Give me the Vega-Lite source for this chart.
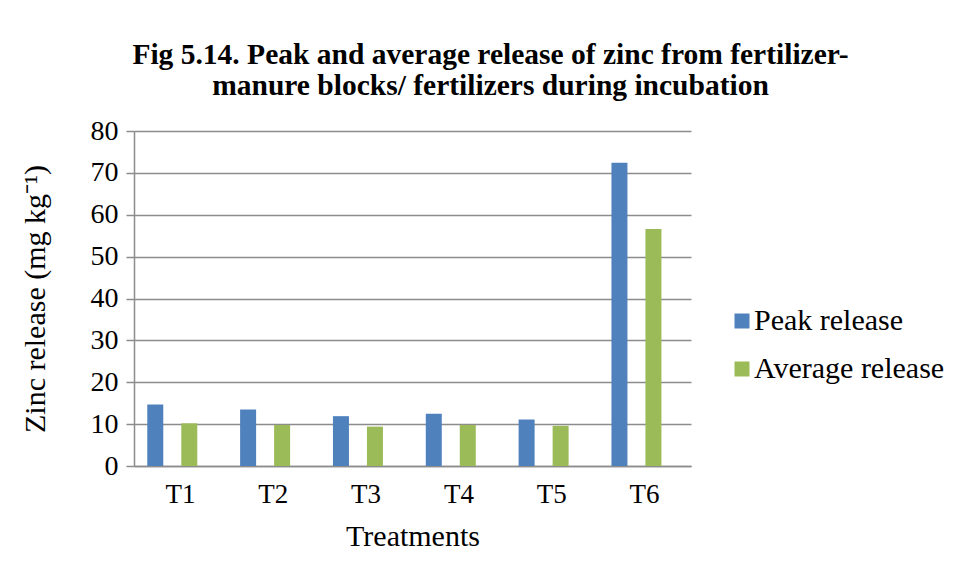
{
  "$schema": "https://vega.github.io/schema/vega-lite/v6.json",
  "autosize": {"type": "none"},
  "width": 557,
  "height": 335,
  "padding": {"left": 134, "top": 131, "right": 264, "bottom": 111},
  "background": "white",
  "config": {
    "view": {"stroke": null},
    "font": "Liberation Serif"
  },
  "title": {
    "text": ["Fig 5.14. Peak and average release of zinc from fertilizer-", "manure blocks/ fertilizers during incubation"],
    "font": "Liberation Serif",
    "fontSize": 29.5,
    "fontWeight": "bold",
    "color": "black",
    "anchor": "middle",
    "frame": "group",
    "dx": 78,
    "offset": 16,
    "lineHeight": 31
  },
  "data": {
    "values": [
      {"treatment": "T1", "series": "Peak release", "value": 14.7},
      {"treatment": "T1", "series": "Average release", "value": 10.2},
      {"treatment": "T2", "series": "Peak release", "value": 13.5},
      {"treatment": "T2", "series": "Average release", "value": 9.8},
      {"treatment": "T3", "series": "Peak release", "value": 11.9},
      {"treatment": "T3", "series": "Average release", "value": 9.4},
      {"treatment": "T4", "series": "Peak release", "value": 12.5},
      {"treatment": "T4", "series": "Average release", "value": 9.8},
      {"treatment": "T5", "series": "Peak release", "value": 11.1},
      {"treatment": "T5", "series": "Average release", "value": 9.6},
      {"treatment": "T6", "series": "Peak release", "value": 72.4},
      {"treatment": "T6", "series": "Average release", "value": 56.6}
    ]
  },
  "mark": {"type": "bar"},
  "encoding": {
    "x": {
      "field": "treatment",
      "type": "nominal",
      "scale": {"paddingInner": 0, "paddingOuter": 0},
      "axis": {
        "title": "Treatments",
        "labelAngle": 0,
        "labelFont": "Liberation Serif",
        "labelFontSize": 27,
        "labelColor": "black",
        "labelPadding": 15,
        "titleFont": "Liberation Serif",
        "titleFontSize": 30,
        "titleFontWeight": "normal",
        "titleColor": "black",
        "titlePadding": 14,
        "ticks": false,
        "domainColor": "#8c8c8c",
        "domainWidth": 1.5,
        "bandPosition": 0.412,
        "grid": false
      }
    },
    "xOffset": {
      "field": "series",
      "type": "nominal",
      "sort": ["Peak release", "Average release"],
      "scale": {"paddingInner": 0.5294, "paddingOuter": 0.63, "align": 0.31}
    },
    "y": {
      "field": "value",
      "type": "quantitative",
      "scale": {"domain": [0, 80], "nice": false},
      "axis": {
        "title": "Zinc release (mg kg⁻¹)",
        "values": [0, 10, 20, 30, 40, 50, 60, 70, 80],
        "labelFont": "Liberation Serif",
        "labelFontSize": 28,
        "labelColor": "black",
        "labelPadding": 8,
        "titleFont": "Liberation Serif",
        "titleFontSize": 30,
        "titleFontWeight": "normal",
        "titleColor": "black",
        "titlePadding": 40,
        "tickColor": "#8c8c8c",
        "tickSize": 8,
        "tickWidth": 1.5,
        "domainColor": "#8c8c8c",
        "domainWidth": 1.5,
        "gridColor": "#8c8c8c",
        "gridWidth": 1.5
      }
    },
    "color": {
      "field": "series",
      "type": "nominal",
      "sort": ["Peak release", "Average release"],
      "scale": {"domain": ["Peak release", "Average release"], "range": ["#4f81bd", "#9bbb59"]},
      "legend": {
        "title": null,
        "orient": "none",
        "legendX": 593,
        "legendY": 175,
        "symbolType": "square",
        "symbolSize": 225,
        "symbolStrokeWidth": 0,
        "labelFont": "Liberation Serif",
        "labelFontSize": 30,
        "labelColor": "black",
        "labelOffset": -3,
        "labelLimit": 400,
        "rowPadding": 18
      }
    }
  }
}
